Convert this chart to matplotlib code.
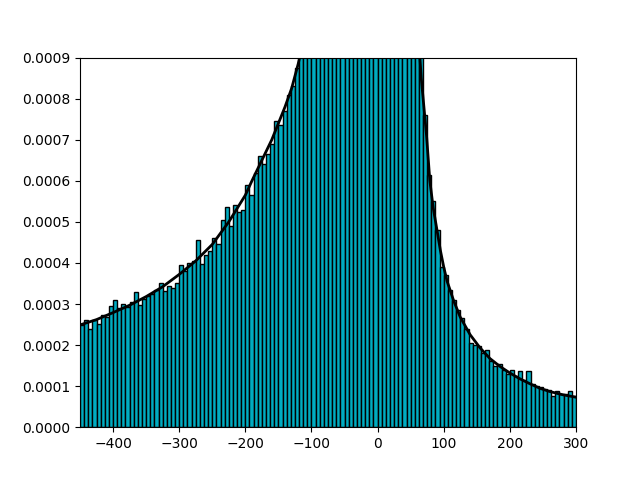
import numpy as np
import matplotlib
matplotlib.use("Agg")
from matplotlib import pyplot as plt

bin_width = 6.25
x_start = -450
# bar heights (bars past 0.0009 are clipped, values there are guesses)
heights = [0.000248, 0.000260, 0.000240, 0.000262, 0.000252, 0.000272, 0.000268, 0.000295, 0.000310, 0.000290,
           0.000300, 0.000292, 0.000305, 0.000330, 0.000298, 0.000312, 0.000320, 0.000325, 0.000335, 0.000350,
           0.000332, 0.000345, 0.000338, 0.000350, 0.000395, 0.000380, 0.000400, 0.000405, 0.000455, 0.000398,
           0.000420, 0.000430, 0.000460, 0.000445, 0.000505, 0.000535, 0.000490, 0.000540, 0.000525, 0.000530,
           0.000590, 0.000565, 0.000620, 0.000660, 0.000640, 0.000665, 0.000690, 0.000745, 0.000735, 0.000770,
           0.000810, 0.000830, 0.000875, 0.000930,
           0.00097, 0.00103, 0.0011, 0.00118, 0.00125, 0.00133, 0.0014, 0.0015, 0.0016, 0.0017,
           0.0018, 0.0019, 0.0020, 0.0021, 0.0022, 0.0023, 0.0024, 0.0025, 0.0026, 0.0027,
           0.0028, 0.0030, 0.0031, 0.0032, 0.0030, 0.0026, 0.0020, 0.0014, 0.00098,
           0.000760, 0.000615, 0.000550, 0.000480, 0.000390, 0.000370, 0.000335, 0.000310, 0.000285, 0.000265,
           0.000240, 0.000205, 0.000200, 0.000198, 0.000180, 0.000188, 0.000160, 0.000150, 0.000155, 0.000140,
           0.000130, 0.000140, 0.000125, 0.000138, 0.000115, 0.000138, 0.000105, 0.000100, 0.000098, 0.000092,
           0.000090, 0.000075, 0.000088, 0.000080, 0.000082, 0.000088, 0.000075]

# fitted curve
curve_x = [-450, -425, -400, -375, -350, -325, -300, -275, -250, -225, -200, -190, -175, -160, -150, -140,
           -130, -120, -110, -60, 0, 40, 60, 64, 66, 70, 74, 79, 84, 90, 95, 100, 105, 115, 125, 140, 155,
           170, 185, 200, 215, 230, 245, 260, 280, 300]
curve_y = [0.000249, 0.000262, 0.000279, 0.000297, 0.000318, 0.000342, 0.000372, 0.000405, 0.000445,
           0.000500, 0.000565, 0.000600, 0.000650, 0.000700, 0.000740, 0.000780, 0.000825, 0.000885,
           0.00096, 0.0015, 0.0025, 0.0015, 0.00097, 0.0009, 0.00085, 0.00078, 0.00071, 0.000600,
           0.000535, 0.000478, 0.000430, 0.000390, 0.000356, 0.000308, 0.000268, 0.000225, 0.000193,
           0.000167, 0.000148, 0.000132, 0.000118, 0.000106, 0.000095, 0.000087, 0.000079, 0.000073]

centers = x_start + bin_width / 2 + bin_width * np.arange(len(heights))

fig = plt.figure(figsize=(6.4, 4.8), dpi=100)
plt.bar(centers, heights, width=bin_width, color='#00acc1', edgecolor='black', linewidth=1)
plt.plot(curve_x, curve_y, color='black', linewidth=2)
plt.xlim(-450, 300)
plt.ylim(0, 0.0009)
plt.savefig("out.png")
